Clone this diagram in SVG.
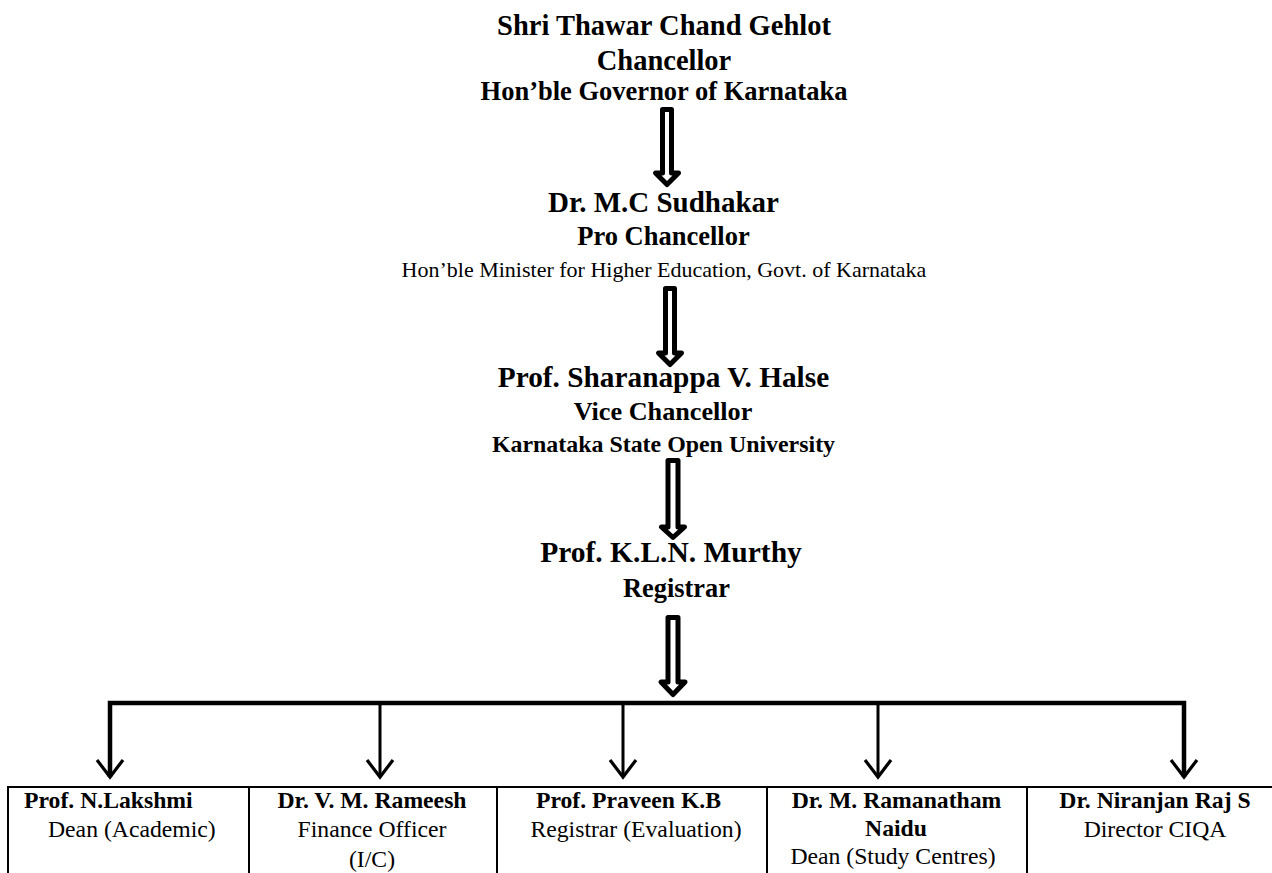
<svg xmlns="http://www.w3.org/2000/svg" width="1272" height="873" viewBox="0 0 1272 873">
<style>
text{font-family:"Liberation Serif","Times New Roman",serif;fill:#000}
.b{font-weight:bold}
.c{text-anchor:middle}
.dbl{fill:#fff;stroke:#000;stroke-width:5;stroke-linejoin:round}
.bar{stroke:#000;stroke-width:4.5;fill:none}
.drop{stroke:#000;stroke-width:3;fill:none}
.head{stroke:#000;stroke-width:3.2;fill:none;stroke-linejoin:miter}
.cell{stroke:#000;stroke-width:2;fill:none}
</style>
<rect width="1272" height="873" fill="#fff"/>

<g id="chancellor">
<text class="b c" x="664" y="35" font-size="28.5">Shri Thawar Chand Gehlot</text>
<text class="b c" x="664" y="70" font-size="28.5">Chancellor</text>
<text class="b c" x="664" y="100" font-size="26.5">Hon’ble Governor of Karnataka</text>
</g>

<g id="pro-chancellor">
<text class="b c" x="663.5" y="212" font-size="29">Dr. M.C Sudhakar</text>
<text class="b c" x="663.5" y="245" font-size="26.5">Pro Chancellor</text>
<text class="c" x="664" y="277" font-size="22">Hon’ble Minister for Higher Education, Govt. of Karnataka</text>
</g>

<g id="vice-chancellor">
<text class="b c" x="663.5" y="387" font-size="29.3">Prof. Sharanappa V. Halse</text>
<text class="b c" x="663" y="420" font-size="26.2">Vice Chancellor</text>
<text class="b c" x="663.5" y="452" font-size="23.9">Karnataka State Open University</text>
</g>

<g id="registrar">
<text class="b c" x="671" y="562" font-size="29.5">Prof. K.L.N. Murthy</text>
<text class="b c" x="676.5" y="597" font-size="26.4">Registrar</text>
</g>

<g id="connectors">
<path class="dbl" d="M662.5,109.5 H671.5 V173 H678.5 L667,184.5 L655.5,173 H662.5 Z"/>
<path class="dbl" d="M665.5,288.5 H674.5 V353 H681.5 L670,364.5 L658.5,353 H665.5 Z"/>
<path class="dbl" d="M668,460.5 H678 V527 H684.5 L673,537.5 L661.5,527 H668 Z"/>
<path class="dbl" d="M668,617.5 H678 V682 H685 L673,694.5 L661,682 H668 Z"/>
<path class="bar" d="M110,777 V703 H1184 V777"/>
<path class="drop" d="M380,703 V777 M623,703 V777 M878,703 V777"/>
<path class="head" d="M97,760 L110,777 L123,760 M367,760 L380,777 L393,760 M610,760 L623,777 L636,760 M865,760 L878,777 L891,760 M1171,760 L1184,777 L1197,760"/>
</g>

<g id="table">
<path class="cell" d="M8,873 V787 H1272 M249,787 V873 M497,787 V873 M767,787 V873 M1027,787 V873"/>
</g>

<g id="lakshmi">
<text class="b" x="24" y="808" font-size="23.7">Prof. N.Lakshmi</text>
<text x="48" y="837" font-size="23.7">Dean (Academic)</text>
</g>

<g id="rameesh">
<text class="b c" x="372" y="808" font-size="23.7">Dr. V. M. Rameesh</text>
<text class="c" x="372" y="837" font-size="23.7">Finance Officer</text>
<text class="c" x="372" y="867" font-size="23.7">(I/C)</text>
</g>

<g id="praveen">
<text class="b c" x="628.5" y="808" font-size="23.7">Prof. Praveen K.B</text>
<text class="c" x="636" y="837" font-size="23.7">Registrar (Evaluation)</text>
</g>

<g id="ramanatham">
<text class="b c" x="896.5" y="808" font-size="23.7">Dr. M. Ramanatham</text>
<text class="b c" x="896" y="836" font-size="23.7">Naidu</text>
<text class="c" x="893" y="864" font-size="23.7">Dean (Study Centres)</text>
</g>

<g id="niranjan">
<text class="b c" x="1155" y="808" font-size="23.7">Dr. Niranjan Raj S</text>
<text class="c" x="1155" y="837" font-size="23.7">Director CIQA</text>
</g>
</svg>
